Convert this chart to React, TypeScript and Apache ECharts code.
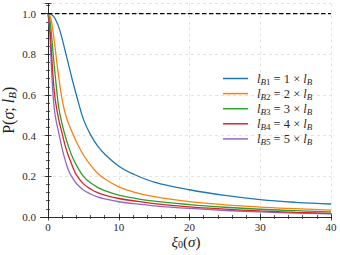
import React, { useEffect, useRef } from "react";
import * as echarts from "echarts";

const xs = [0, 0.25, 0.5, 0.75, 1, 1.5, 2, 2.5, 3, 3.5, 4, 5, 6, 7, 8, 10, 12, 15, 20, 25, 30, 35, 40];
const pB1 = [1, 0.999, 0.995, 0.988, 0.975, 0.935, 0.875, 0.805, 0.735, 0.665, 0.6, 0.48, 0.405, 0.35, 0.31, 0.25, 0.212, 0.172, 0.134, 0.106, 0.085, 0.072, 0.064];
const pB2 = [1, 0.99, 0.96, 0.9, 0.83, 0.69, 0.575, 0.5, 0.45, 0.41, 0.37, 0.305, 0.255, 0.215, 0.188, 0.148, 0.124, 0.1, 0.076, 0.06, 0.049, 0.041, 0.034];
const pB3 = [1, 0.97, 0.89, 0.79, 0.7, 0.54, 0.455, 0.39, 0.335, 0.29, 0.255, 0.2, 0.168, 0.146, 0.13, 0.108, 0.094, 0.078, 0.061, 0.048, 0.038, 0.031, 0.025];
const pB4 = [1, 0.93, 0.8, 0.67, 0.58, 0.48, 0.41, 0.34, 0.29, 0.245, 0.207, 0.163, 0.138, 0.12, 0.108, 0.091, 0.08, 0.066, 0.05, 0.039, 0.03, 0.023, 0.018];
const pB5 = [1, 0.9, 0.72, 0.58, 0.5, 0.415, 0.335, 0.27, 0.22, 0.19, 0.165, 0.133, 0.113, 0.099, 0.089, 0.075, 0.066, 0.055, 0.042, 0.032, 0.025, 0.019, 0.015];
const seriesValues = [pB1, pB2, pB3, pB4, pB5];
const multipliers = [1, 2, 3, 4, 5];
const seriesNames = ["lB1", "lB2", "lB3", "lB4", "lB5"];
const colors = ["#1f77b4", "#ff7f0e", "#2ca02c", "#d62728", "#9467bd"];
const refLineX = [-1, 40];
const refLineY = [1, 1];
const xMajorTicks = [0, 10, 20, 30, 40];
const xMinorTicks = [0, 2, 4, 6, 8, 10, 12, 14, 16, 18, 20, 22, 24, 26, 28, 30, 32, 34, 36, 38, 40];
const yTickLabels = [0, 0.2, 0.4, 0.6, 0.8, 1.0];

const SERIF = "Liberation Serif";
const AX = "#2a2a2a";
const TXT = "#2a2a2a";

const richLegend = {
  n: { fontFamily: SERIF, fontSize: 12.5, color: TXT, lineHeight: 15 },
  i: { fontFamily: SERIF, fontSize: 12.5, fontStyle: "italic", color: TXT, lineHeight: 15 },
  p: { fontFamily: SERIF, fontSize: 12.5, fontStyle: "italic", color: TXT, lineHeight: 15, padding: [0, 0, 0, 4] },
  si: { fontFamily: SERIF, fontSize: 9, fontStyle: "italic", color: TXT, lineHeight: 15, verticalAlign: "bottom" },
  su: { fontFamily: SERIF, fontSize: 9, color: TXT, lineHeight: 15, verticalAlign: "bottom" },
};

function nameRich(fs: number, lh: number) {
  const sub = Math.round(fs * 0.69);
  return {
    n: { fontFamily: SERIF, fontSize: fs, color: "#222", lineHeight: lh },
    i: { fontFamily: SERIF, fontSize: fs, fontStyle: "italic", color: "#222", lineHeight: lh },
    si: { fontFamily: SERIF, fontSize: sub, fontStyle: "italic", color: "#222", lineHeight: lh, verticalAlign: "bottom" },
    su: { fontFamily: SERIF, fontSize: sub, color: "#222", lineHeight: lh, verticalAlign: "bottom" },
  };
}

const gridLine = { show: true, lineStyle: { color: "#dcdcdc", width: 0.8, type: [3, 3] } };

function xAxisDef(position: string, major: boolean, labels: boolean) {
  const ticks = major ? xMajorTicks : xMinorTicks;
  return {
    type: "value",
    gridIndex: 0,
    position,
    min: -1,
    max: 40,
    interval: 1,
    axisLine: { show: true, lineStyle: { color: AX, width: 1 } },
    axisTick: { show: true, inside: true, length: major ? 3.5 : 2, customValues: ticks, lineStyle: { color: AX, width: 0.8 } },
    axisLabel: labels
      ? {
          show: true,
          margin: 4,
          fontFamily: SERIF,
          fontSize: 11,
          lineHeight: 11,
          color: TXT,
          customValues: xMajorTicks,
          formatter: (v: number) => String(v),
        }
      : { show: false },
    splitLine: labels ? gridLine : { show: false },
    minorTick: { show: false },
    name: labels ? "{i|ξ}{su|0}{n|(}{i|σ}{n|)}" : "",
    nameLocation: "middle",
    nameGap: 18,
    nameMoveOverlap: false,
    nameTextStyle: { rich: nameRich(15, 14) },
  };
}

function yAxisDef(position: string, major: boolean, labels: boolean) {
  return {
    type: "value",
    gridIndex: 0,
    position,
    min: 0,
    max: 1.05,
    interval: major ? 0.2 : 0.04,
    axisLine: { show: true, lineStyle: { color: AX, width: 1 } },
    axisTick: { show: true, inside: true, length: major ? 3.5 : 2, lineStyle: { color: AX, width: 0.8 } },
    axisLabel: labels
      ? {
          show: true,
          margin: 5,
          fontFamily: SERIF,
          fontSize: 11,
          color: TXT,
          formatter: (v: number) => {
            const hit = yTickLabels.find((t) => Math.abs(t - v) < 1e-6);
            return hit === undefined ? "" : hit.toFixed(1);
          },
        }
      : { show: false },
    splitLine: labels ? gridLine : { show: false },
    minorTick: { show: false },
    name: labels ? "{n|P(}{i|σ}{n|; }{i|l}{si|B}{n|)}" : "",
    nameLocation: "middle",
    nameGap: 23.5,
    nameRotate: 90,
    nameMoveOverlap: false,
    nameTextStyle: { rich: nameRich(16, 19) },
  };
}

export default function App() {
  const ref = useRef<HTMLDivElement>(null);
  useEffect(() => {
    if (!ref.current) return;
    const chart = echarts.init(ref.current, null, { renderer: "svg" });
    const series: any[] = seriesValues.map((vals, k) => ({
      name: seriesNames[k],
      type: "line",
      xAxisIndex: 0,
      yAxisIndex: 0,
      data: xs.map((x, j) => [x, vals[j]]),
      symbol: "none",
      smooth: 0.4,
      lineStyle: { color: colors[k], width: 1.3 },
      itemStyle: { color: colors[k] },
      z: 5 - k,
    }));
    series.push({
      name: "ref",
      type: "line",
      xAxisIndex: 0,
      yAxisIndex: 0,
      data: refLineX.map((x, j) => [x, refLineY[j]]),
      symbol: "none",
      lineStyle: { color: "#000", width: 1.1, type: [4.5, 2.5] },
      z: 6,
    });
    chart.setOption({
      animation: false,
      textStyle: { fontFamily: SERIF },
      grid: { left: 41, right: 9, top: 3.5, bottom: 38, containLabel: false, outerBoundsMode: "none" },
      xAxis: [
        xAxisDef("bottom", true, true),
        xAxisDef("top", true, false),
        xAxisDef("top", false, false),
        xAxisDef("bottom", false, false),
      ],
      yAxis: [
        yAxisDef("left", true, true),
        yAxisDef("right", true, false),
        yAxisDef("right", false, false),
        yAxisDef("left", false, false),
      ],
      legend: {
        data: seriesNames,
        orient: "vertical",
        left: 223,
        top: 72,
        padding: 0,
        icon: "rect",
        itemWidth: 25,
        itemHeight: 1.5,
        itemGap: 1.1,
        formatter: (name: string) => {
          const k = seriesNames.indexOf(name);
          return `{p|l}{si|B}{su|${k + 1}}{n| = ${multipliers[k]} × }{i|l}{si|B}`;
        },
        textStyle: { rich: richLegend },
      },
      series,
    });
    return () => chart.dispose();
  }, []);
  return <div ref={ref} style={{ width: 340, height: 255, position: "absolute", left: 0, top: 0 }} />;
}
